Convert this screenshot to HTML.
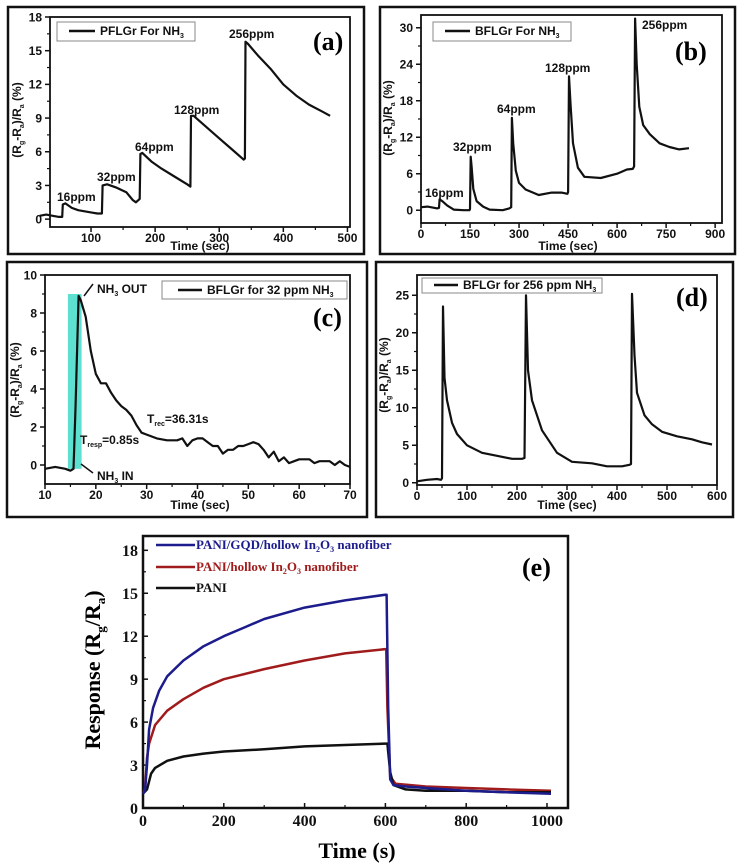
<!DOCTYPE html>
<html><head><meta charset="utf-8"><style>
html,body{margin:0;padding:0;background:#fff;}
svg{display:block;font-family:"Liberation Sans",sans-serif;}
.t{font-weight:bold;font-size:12px;fill:#111;}
.s{font-family:"Liberation Serif",serif;font-weight:bold;}
</style></head><body>
<svg id="fig" width="745" height="866" viewBox="0 0 745 866" xmlns="http://www.w3.org/2000/svg">
<!-- outer panel frames -->
<rect x="8" y="7" width="356" height="247" fill="none" stroke="#111" stroke-width="2.5"/>
<rect x="380" y="7" width="355" height="247" fill="none" stroke="#111" stroke-width="2.5"/>
<rect x="7" y="262" width="360" height="255" fill="none" stroke="#111" stroke-width="2.5"/>
<rect x="376" y="262" width="357" height="255" fill="none" stroke="#111" stroke-width="2.5"/>
<g id="layer"></g>

<!-- panel a texts -->
<g>
<rect x="57" y="22" width="138" height="19" fill="#fff" stroke="#888" stroke-width="1"/>
<line x1="69" y1="31" x2="95" y2="31" stroke="#111" stroke-width="2.5"/>
<text class="t" x="100" y="35" font-size="11">PFLGr For NH<tspan font-size="7" dy="3">3</tspan></text>
<text class="s" x="313" y="50" font-size="26">(a)</text>
<text class="t" x="57" y="201">16ppm</text>
<text class="t" x="97" y="181">32ppm</text>
<text class="t" x="135" y="151">64ppm</text>
<text class="t" x="174" y="114">128ppm</text>
<text class="t" x="229" y="38">256ppm</text>
<text class="t" x="200" y="250" text-anchor="middle">Time (sec)</text>
<text class="t" transform="translate(21,120) rotate(-90)" text-anchor="middle" font-size="11">(R<tspan font-size="7" dy="3">g</tspan><tspan dy="-3">-R</tspan><tspan font-size="7" dy="3">a</tspan><tspan dy="-3">)/R</tspan><tspan font-size="7" dy="3">a</tspan><tspan dy="-3"> (%)</tspan></text>
</g>
<!-- panel b texts -->
<g>
<rect x="433" y="22" width="138" height="19" fill="#fff" stroke="#888" stroke-width="1"/>
<line x1="445" y1="31" x2="470" y2="31" stroke="#111" stroke-width="2.5"/>
<text class="t" x="475" y="35" font-size="11">BFLGr For NH<tspan font-size="7" dy="3">3</tspan></text>
<text class="s" x="675" y="60" font-size="26">(b)</text>
<text class="t" x="425" y="197">16ppm</text>
<text class="t" x="453" y="151">32ppm</text>
<text class="t" x="497" y="113">64ppm</text>
<text class="t" x="545" y="72">128ppm</text>
<text class="t" x="642" y="29">256ppm</text>
<text class="t" x="568" y="250" text-anchor="middle">Time (sec)</text>
<text class="t" transform="translate(392,118) rotate(-90)" text-anchor="middle" font-size="11">(R<tspan font-size="7" dy="3">g</tspan><tspan dy="-3">-R</tspan><tspan font-size="7" dy="3">a</tspan><tspan dy="-3">)/R</tspan><tspan font-size="7" dy="3">a</tspan><tspan dy="-3"> (%)</tspan></text>
</g>
<!-- panel c texts -->
<g>
<rect x="162" y="281" width="185" height="18" fill="#fff" stroke="#888" stroke-width="1"/>
<line x1="178" y1="290" x2="202" y2="290" stroke="#111" stroke-width="2.5"/>
<text class="t" x="207" y="294" font-size="11">BFLGr for 32 ppm NH<tspan font-size="7" dy="3">3</tspan></text>
<text class="s" x="313" y="326" font-size="26">(c)</text>
<text class="t" x="97" y="293" font-size="11">NH<tspan font-size="7" dy="3">3</tspan><tspan dy="-3"> OUT</tspan></text>
<line x1="93" y1="284" x2="84" y2="296" stroke="#111" stroke-width="1.5"/>
<text class="t" x="97" y="480" font-size="11">NH<tspan font-size="7" dy="3">3</tspan><tspan dy="-3"> IN</tspan></text>
<line x1="93" y1="473" x2="81" y2="464" stroke="#111" stroke-width="1.5"/>
<text class="t" x="147" y="423">T<tspan font-size="7" dy="3">rec</tspan><tspan dy="-3">=36.31s</tspan></text>
<text class="t" x="80" y="444">T<tspan font-size="7" dy="3">resp</tspan><tspan dy="-3">=0.85s</tspan></text>
<text class="t" x="200" y="509" text-anchor="middle">Time (sec)</text>
<text class="t" transform="translate(19,380) rotate(-90)" text-anchor="middle" font-size="11">(R<tspan font-size="7" dy="3">g</tspan><tspan dy="-3">-R</tspan><tspan font-size="7" dy="3">a</tspan><tspan dy="-3">)/R</tspan><tspan font-size="7" dy="3">a</tspan><tspan dy="-3"> (%)</tspan></text>
</g>
<!-- panel d texts -->
<g>
<rect x="422" y="278" width="180" height="15" fill="#fff" stroke="#888" stroke-width="1"/>
<line x1="434" y1="285" x2="458" y2="285" stroke="#111" stroke-width="2.5"/>
<text class="t" x="463" y="289" font-size="11">BFLGr for 256 ppm NH<tspan font-size="7" dy="3">3</tspan></text>
<text class="s" x="676" y="306" font-size="26">(d)</text>
<text class="t" x="567" y="509" text-anchor="middle">Time (sec)</text>
<text class="t" transform="translate(388,375) rotate(-90)" text-anchor="middle" font-size="11">(R<tspan font-size="7" dy="3">g</tspan><tspan dy="-3">-R</tspan><tspan font-size="7" dy="3">a</tspan><tspan dy="-3">)/R</tspan><tspan font-size="7" dy="3">a</tspan><tspan dy="-3"> (%)</tspan></text>
</g>
<!-- panel e texts -->
<g>
<line x1="156" y1="545" x2="195" y2="545" stroke="#1c1c8c" stroke-width="2.5"/>
<text class="s" x="196" y="549" font-size="13" fill="#1c1c8c">PANI/GQD/hollow In<tspan font-size="8" dy="3">2</tspan><tspan dy="-3">O</tspan><tspan font-size="8" dy="3">3</tspan><tspan dy="-3"> nanofiber</tspan></text>
<line x1="156" y1="567" x2="195" y2="567" stroke="#a01c1c" stroke-width="2.5"/>
<text class="s" x="196" y="571" font-size="13" fill="#a01c1c">PANI/hollow In<tspan font-size="8" dy="3">2</tspan><tspan dy="-3">O</tspan><tspan font-size="8" dy="3">3</tspan><tspan dy="-3"> nanofiber</tspan></text>
<line x1="156" y1="588" x2="195" y2="588" stroke="#111" stroke-width="2.5"/>
<text class="s" x="196" y="592" font-size="13" fill="#111">PANI</text>
<text class="s" x="522" y="576" font-size="26">(e)</text>
<text class="s" x="357" y="858" font-size="22" text-anchor="middle">Time (s)</text>
<text class="s" transform="translate(100,670) rotate(-90)" font-size="22" text-anchor="middle">Response (R<tspan font-size="13" dy="5">g</tspan><tspan dy="-5">/R</tspan><tspan font-size="13" dy="5">a</tspan><tspan dy="-5">)</tspan></text>
</g>
</svg>
<script>
// ---- data ----
const aSeries = [[20,0.3],[30,0.4],[40,0.3],[50,0.2],[55,0.2],[56,1.3],[60,1.4],[70,1.0],[80,0.8],[90,0.7],[100,0.6],[110,0.5],[117,0.5],[118,3.0],[125,3.1],[140,2.8],[155,2.4],[165,1.7],[170,1.5],[176,1.8],[177,5.8],[180,5.9],[195,5.1],[210,4.5],[230,3.8],[250,3.1],[255,2.9],[256,9.2],[260,9.2],[280,8.2],[300,7.2],[320,6.2],[338,5.3],[340,5.4],[341,15.8],[345,15.6],[360,14.6],[380,13.4],[400,12.0],[420,11.0],[440,10.2],[460,9.6],[473,9.2]];
const aYTicks = [0,3,6,9,12,15,18];
const aXTicks = [100,200,300,400,500];
const bSeries = [[0,0.5],[20,0.6],[50,0.3],[55,0.4],[57,1.8],[65,1.5],[80,0.8],[100,0.1],[130,0],[148,0],[150,0.2],[152,8.8],[155,7],[160,3.5],[170,1.5],[190,0.6],[210,0.1],[250,0],[270,0.3],[276,0.5],[278,15.2],[282,11],[290,6.5],[300,4.5],[320,3.4],[360,2.5],[400,2.9],[430,2.9],[448,2.7],[450,3],[453,22],[458,17],[465,11],[480,7],[500,5.5],[550,5.3],[600,6],[630,6.7],[648,6.8],[652,7.2],[655,31.5],[660,24],[668,17],[680,14],[700,12.5],[730,11],[760,10.4],[790,10],[820,10.2]];
const bYTicks = [0,6,12,18,24,30];
const bXTicks = [0,150,300,450,600,750,900];
const cSeries = [[10,-0.2],[12,-0.1],[14,-0.2],[15,-0.3],[15.6,-0.2],[16,3],[16.6,8.9],[17,8.7],[18,7.8],[19,6],[20,4.8],[21,4.3],[22,4.3],[23,3.8],[24,3.4],[25,3.1],[26,2.9],[27,2.6],[28,2.1],[29,1.7],[30,1.6],[32,1.4],[34,1.3],[36,1.3],[37,1.4],[38,1.0],[39,1.3],[40,1.4],[41,1.4],[42,1.2],[43,1.0],[44,1.0],[45,0.6],[46,0.8],[47,0.8],[48,1.0],[49,1.0],[50,1.1],[51,1.2],[52,1.1],[53,0.8],[54,0.4],[55,0.7],[56,0.2],[57,0.4],[58,0.1],[59,0.2],[60,0.3],[62,0.3],[63,0.1],[64,0.2],[66,0.2],[67,0],[68,0.2],[69,0],[70,-0.1]];
const cYTicks = [0,2,4,6,8,10];
const cXTicks = [10,20,30,40,50,60,70];
const cBand = [14.5,17.2,-0.2,9.0];
const dSeries = [[0,0.2],[20,0.4],[40,0.5],[48,0.4],[50,0.6],[52,23.5],[55,14],[60,11],[70,8],[80,6.5],[100,5],[130,4],[160,3.6],[190,3.2],[210,3.2],[215,3.3],[218,25],[222,15],[230,11],[250,7],[280,4],[310,2.8],[350,2.6],[380,2.2],[410,2.2],[425,2.4],[428,2.5],[430,25.2],[435,17],[440,12],[455,9],[470,7.8],[490,6.8],[520,6.2],[550,5.8],[570,5.4],[590,5.1]];
const dYTicks = [0,5,10,15,20,25];
const dXTicks = [0,100,200,300,400,500,600];
const eBlue = [[0,1],[5,1.2],[10,3],[15,5.5],[25,7],[40,8.2],[60,9.2],[100,10.3],[150,11.3],[200,12.0],[250,12.6],[300,13.2],[400,14.0],[500,14.5],[600,14.9],[603,14.9],[607,7],[612,2],[620,1.6],[650,1.5],[700,1.4],[800,1.2],[900,1.1],[1010,1.0]];
const eRed = [[0,1],[5,1.3],[10,3.5],[15,4.5],[30,5.8],[60,6.8],[100,7.6],[150,8.4],[200,9],[300,9.7],[400,10.3],[500,10.8],[600,11.1],[602,11.1],[605,7],[612,2.2],[625,1.7],[700,1.5],[800,1.4],[900,1.3],[1010,1.2]];
const eBlack = [[0,1],[10,1.3],[20,2.4],[30,2.8],[60,3.3],[100,3.6],[150,3.8],[200,3.95],[300,4.1],[400,4.3],[500,4.4],[600,4.5],[605,4.5],[612,2.5],[620,1.6],[650,1.3],[700,1.2],[800,1.2],[900,1.1],[1010,1.1]];
const eYTicks = [0,3,6,9,12,15,18];
const eXTicks = [0,200,400,600,800,1000];

const NS = "http://www.w3.org/2000/svg";
const layer = document.getElementById('layer');
function mk(tag, attrs, parent){const e=document.createElementNS(NS,tag);for(const k in attrs)e.setAttribute(k,attrs[k]);(parent||layer).appendChild(e);return e;}

function panel(name, P, xt, yt, serif, inward){
  const g = mk('g',{});
  
  
  const sx = v => P.L + (v-P.x0)/(P.x1-P.x0)*(P.R-P.L);
  const sy = v => P.B - (v-P.y0)/(P.y1-P.y0)*(P.B-P.T);
  mk('rect',{x:P.L,y:P.T,width:P.R-P.L,height:P.B-P.T,fill:'none',stroke:'#111','stroke-width':serif?2.5:1.8},g);
  const dir = inward?-1:1;
  const fam = serif?'"Liberation Serif",serif':'"Liberation Sans",sans-serif';
  const fs = serif?16:12;
  yt.forEach((v,i)=>{
    const y=sy(v);
    mk('line',{x1:P.L,y1:y,x2:P.L-5*dir,y2:y,stroke:'#111','stroke-width':1.5},g);
    const t=mk('text',{x:P.L-(inward?5:8),y:y+fs*0.36,'text-anchor':'end','font-size':fs,'font-weight':'bold','font-family':fam,fill:'#111'},g);
    t.textContent=v;
    if(i<yt.length-1){const ym=sy((v+yt[i+1])/2);mk('line',{x1:P.L,y1:ym,x2:P.L-3*dir,y2:ym,stroke:'#111','stroke-width':1.2},g);}
  });
  xt.forEach((v,i)=>{
    const x=sx(v);
    mk('line',{x1:x,y1:P.B,x2:x,y2:P.B+5*dir,stroke:'#111','stroke-width':1.5},g);
    const t=mk('text',{x:x,y:P.B+(serif?18:15),'text-anchor':'middle','font-size':fs,'font-weight':'bold','font-family':fam,fill:'#111'},g);
    t.textContent=v;
    if(i<xt.length-1){const xm=sx((v+xt[i+1])/2);mk('line',{x1:xm,y1:P.B,x2:xm,y2:P.B+3*dir,stroke:'#111','stroke-width':1.2},g);}
  });
  return {g,sx,sy};
}
function line(p, data, color, w, name){
  const d = data.map((q,i)=>(i?'L':'M')+p.sx(q[0]).toFixed(1)+','+p.sy(q[1]).toFixed(1)).join('');
  const el = mk('path',{d:d,fill:'none',stroke:color,'stroke-width':w,'stroke-linejoin':'round'},p.g);
  
  
}

const pa = panel('panel-a',{L:50,R:350,T:17,B:227,x0:36,x1:504,y0:-0.7,y1:18},aXTicks,aYTicks,false,false);
line(pa,aSeries,'#111',2.2,'series-pflgr');
const pb = panel('panel-b',{L:421,R:722,T:15,B:223,x0:0,x1:921,y0:-2.1,y1:32.1},bXTicks,bYTicks,false,false);
line(pb,bSeries,'#111',2.2,'series-bflgr');
const pc = panel('panel-c',{L:45,R:350,T:275,B:484,x0:10,x1:70,y0:-1,y1:10},cXTicks,cYTicks,false,false);
const band = mk('rect',{x:pc.sx(cBand[0]),y:pc.sy(cBand[3]),width:pc.sx(cBand[1])-pc.sx(cBand[0]),height:pc.sy(cBand[2])-pc.sy(cBand[3]),fill:'#5de0cf'},pc.g);


line(pc,cSeries,'#111',2.2,'series-bflgr-32ppm');
const pd = panel('panel-d',{L:417,R:717,T:275,B:485,x0:0,x1:600,y0:-0.3,y1:27.7},dXTicks,dYTicks,false,false);
line(pd,dSeries,'#111',2.2,'series-bflgr-256ppm');
const pe = panel('panel-e',{L:143,R:568,T:536,B:808,x0:0,x1:1052,y0:0,y1:19},eXTicks,eYTicks,true,true);
line(pe,eRed,'#a01c1c',2.5,'series-pani-in2o3');
line(pe,eBlack,'#111',2.5,'series-pani');
line(pe,eBlue,'#1c1c8c',2.5,'series-pani-gqd-in2o3');
</script>
</body></html>
